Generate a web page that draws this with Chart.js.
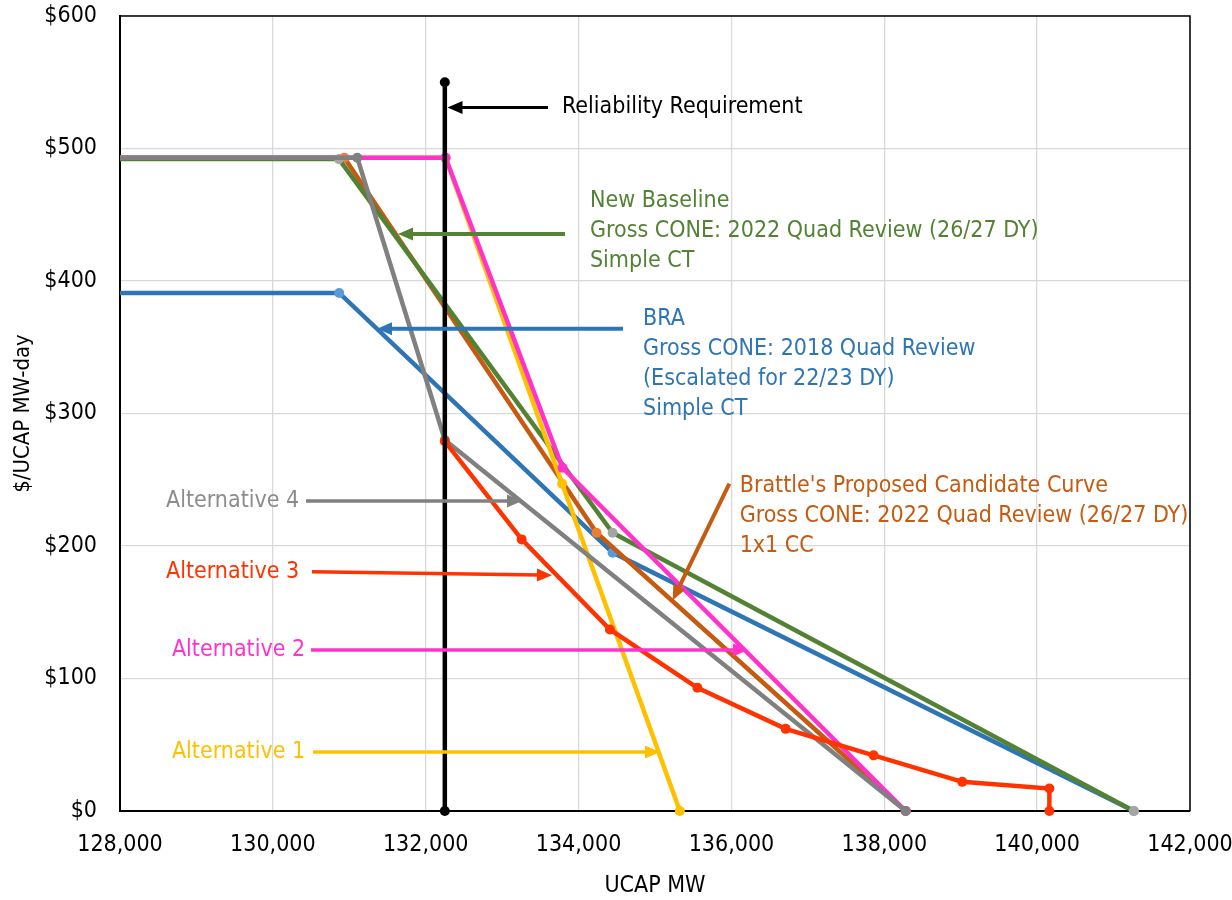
<!DOCTYPE html>
<html>
<head>
<meta charset="utf-8">
<script src="https://cdn.jsdelivr.net/npm/chart.js@4.4.1/dist/chart.umd.min.js"></script>
<style>
  html, body { margin: 0; padding: 0; background: #fff; }
  canvas { display: block; }
</style>
</head>
<body>
<canvas id="vrr-chart" width="1232" height="900"></canvas>
<script>
// tick labels
const xTicks = [128000, 130000, 132000, 134000, 136000, 138000, 140000, 142000];
const yTicks = [0, 100, 200, 300, 400, 500, 600];

// curves (UCAP MW, $/MW-day)
const reliabilityX = [132250, 132250];
const reliabilityY = [0, 550];
const baselineX = [128000, 130865, 134445, 141265];
const baselineY = [492, 492, 210, 0];
const braX = [128000, 130868, 134445, 141265];
const braY = [391, 391, 195, 0];
const brattleX = [128000, 130935, 134235, 138280];
const brattleY = [493, 493, 210, 0];
const alt4X = [128000, 131105, 132250, 138280];
const alt4Y = [493, 493, 280, 0];
const alt3X = [132250, 133255, 134410, 135555, 136710, 137860, 139020, 140160, 140160];
const alt3Y = [279, 205, 137, 93, 62, 42, 22, 17, 0];
const alt2X = [128000, 132260, 133790, 138280];
const alt2Y = [493, 493, 259, 0];
const alt1X = [128000, 132260, 133785, 135325];
const alt1Y = [493, 493, 247, 0];

const FONT = "'Liberation Sans Narrow', 'Arial Narrow', 'DejaVu Sans Condensed', sans-serif";

function pts(xs, ys) {
  return xs.map((x, i) => ({ x: x, y: ys[i] }));
}

function curve(label, xs, ys, color, markerColor, order) {
  return {
    label: label,
    data: pts(xs, ys),
    showLine: true,
    borderColor: color,
    borderWidth: 4.5,
    backgroundColor: markerColor,
    pointBackgroundColor: markerColor,
    pointBorderWidth: 0,
    pointRadius: ctx => (ctx.raw && ctx.raw.x <= 128000 ? 0 : 5),
    pointHoverRadius: 5,
    clip: false,
    order: order
  };
}

// callouts: arrows and labels, placed in data units
const arrows = [
  { from: [133600, 531], to: [132285, 531], color: '#000000', width: 3 },
  { from: [133822, 435.5], to: [131637, 435.5], color: '#548235', width: 4 },
  { from: [134581, 364], to: [131363, 364], color: '#2E75B6', width: 4 },
  { from: [135973, 247], to: [135231, 159], color: '#C55A11', width: 4 },
  { from: [130434, 234], to: [133260, 234], color: '#808080', width: 3.5 },
  { from: [130512, 180.5], to: [133652, 178], color: '#FF3300', width: 3.5 },
  { from: [130499, 121.5], to: [136217, 121.5], color: '#FF33CC', width: 3.5 },
  { from: [130525, 44.5], to: [135065, 44.5], color: '#FFC000', width: 3.5 }
];

const labels = [
  { at: [133783, 531], color: '#000000', lines: ['Reliability Requirement'] },
  { at: [134149, 460], color: '#548235', lines: ['New Baseline', 'Gross CONE: 2022 Quad Review (26/27 DY)', 'Simple CT'] },
  { at: [134843, 371.3], color: '#2E75B6', lines: ['BRA', 'Gross CONE: 2018 Quad Review', '(Escalated for 22/23 DY)', 'Simple CT'] },
  { at: [136108, 245.5], color: '#C55A11', lines: ["Brattle's Proposed Candidate Curve", 'Gross CONE: 2022 Quad Review (26/27 DY)', '1x1 CC'] },
  { at: [128602, 234], color: '#8C8C8C', lines: ['Alternative 4'] },
  { at: [128602, 180.2], color: '#FF3300', lines: ['Alternative 3'] },
  { at: [128680, 121.5], color: '#FF33CC', lines: ['Alternative 2'] },
  { at: [128680, 44.8], color: '#FFC000', lines: ['Alternative 1'] }
];

function drawArrow(ctx, x1, y1, x2, y2, color, width) {
  const ang = Math.atan2(y2 - y1, x2 - x1);
  const headLen = 15, headHalf = 6.5;
  const bx = x2 - Math.cos(ang) * headLen;
  const by = y2 - Math.sin(ang) * headLen;
  ctx.save();
  ctx.strokeStyle = color;
  ctx.fillStyle = color;
  ctx.lineWidth = width;
  ctx.beginPath();
  ctx.moveTo(x1, y1);
  ctx.lineTo(bx + Math.cos(ang) * 2, by + Math.sin(ang) * 2);
  ctx.stroke();
  ctx.beginPath();
  ctx.moveTo(x2, y2);
  ctx.lineTo(bx - Math.sin(ang) * headHalf, by + Math.cos(ang) * headHalf);
  ctx.lineTo(bx + Math.sin(ang) * headHalf, by - Math.cos(ang) * headHalf);
  ctx.closePath();
  ctx.fill();
  ctx.restore();
}

const calloutPlugin = {
  id: 'callouts',
  afterDatasetsDraw(chart) {
    const { ctx, chartArea: a, scales: { x, y } } = chart;
    // plot frame
    ctx.save();
    ctx.strokeStyle = '#000';
    ctx.lineWidth = 1.5;
    ctx.beginPath();
    ctx.moveTo(a.left, a.top);
    ctx.lineTo(a.right, a.top);
    ctx.lineTo(a.right, a.bottom);
    ctx.stroke();
    ctx.restore();

    arrows.forEach(ar => {
      drawArrow(ctx,
        x.getPixelForValue(ar.from[0]), y.getPixelForValue(ar.from[1]),
        x.getPixelForValue(ar.to[0]), y.getPixelForValue(ar.to[1]),
        ar.color, ar.width);
    });

    ctx.save();
    ctx.font = '23px ' + FONT;
    ctx.textAlign = 'left';
    ctx.textBaseline = 'middle';
    labels.forEach(lb => {
      const px = x.getPixelForValue(lb.at[0]);
      const py = y.getPixelForValue(lb.at[1]);
      ctx.fillStyle = lb.color;
      lb.lines.forEach((t, i) => ctx.fillText(t, px, py + i * 30));
    });
    ctx.restore();
  }
};

const chartCtx = document.getElementById('vrr-chart').getContext('2d');

const vrrChart = new Chart(chartCtx, {
  type: 'scatter',
  data: {
    datasets: [
      {
        label: 'Reliability Requirement',
        data: pts(reliabilityX, reliabilityY),
        showLine: true,
        borderColor: '#000000',
        borderWidth: 4.5,
        pointBackgroundColor: '#000000',
        pointBorderWidth: 0,
        pointRadius: 5,
        clip: false,
        order: 0
      },
      curve('Alternative 3', alt3X, alt3Y, '#FF3300', '#FF3300', 1),
      curve('Alternative 4', alt4X, alt4Y, '#808080', '#808080', 2),
      curve('Alternative 2', alt2X, alt2Y, '#FF33CC', '#FF33CC', 3),
      curve('Alternative 1', alt1X, alt1Y, '#FFC000', '#FFC000', 4),
      curve('New Baseline', baselineX, baselineY, '#548235', '#A5A5A5', 5),
      curve("Brattle's Proposed Candidate Curve", brattleX, brattleY, '#C55A11', '#ED7D31', 6),
      curve('BRA', braX, braY, '#2E75B6', '#5B9BD5', 7)
    ]
  },
  options: {
    responsive: false,
    animation: false,
    layout: { padding: { top: 16, right: 42, left: 0, bottom: 0 } },
    plugins: {
      legend: { display: false },
      tooltip: { enabled: false }
    },
    scales: {
      x: {
        type: 'linear',
        min: xTicks[0],
        max: xTicks[xTicks.length - 1],
        afterBuildTicks: scale => { scale.ticks = xTicks.map(v => ({ value: v })); },
        afterFit: scale => {
          scale.height = 89;
          scale.paddingLeft = 0;
          scale.paddingRight = 0;
        },
        grid: { color: '#D9D9D9', lineWidth: 1.3, drawTicks: false },
        border: { color: '#000', width: 2 },
        ticks: {
          padding: 20,
          color: '#000',
          font: { family: FONT, size: 23 },
          maxRotation: 0,
          callback: v => v.toLocaleString('en-US')
        },
        title: {
          display: true,
          text: 'UCAP MW',
          color: '#000',
          font: { family: FONT, size: 23 },
          padding: { top: 0, bottom: 0 }
        }
      },
      y: {
        type: 'linear',
        min: yTicks[0],
        max: yTicks[yTicks.length - 1],
        afterBuildTicks: scale => { scale.ticks = yTicks.map(v => ({ value: v })); },
        afterFit: scale => {
          scale.width = 120;
          scale.paddingTop = 0;
          scale.paddingBottom = 0;
        },
        grid: { color: '#D9D9D9', lineWidth: 1.3, drawTicks: false },
        border: { color: '#000', width: 2 },
        ticks: {
          padding: 23,
          color: '#000',
          font: { family: FONT, size: 23 },
          callback: v => '$' + v
        },
        title: {
          display: true,
          text: '$/UCAP MW-day',
          color: '#000',
          font: { family: FONT, size: 22 },
          padding: { top: 10, bottom: 0 }
        }
      }
    }
  },
  plugins: [calloutPlugin]
});
</script>
</body>
</html>
